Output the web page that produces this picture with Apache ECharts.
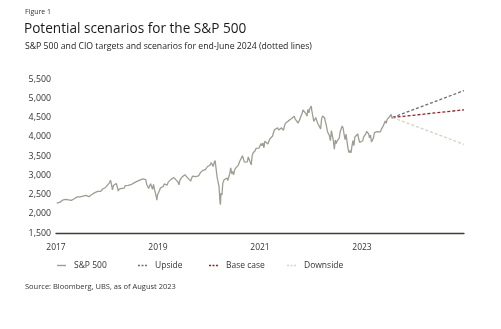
<!DOCTYPE html>
<html>
<head>
<meta charset="utf-8">
<script src="https://cdn.jsdelivr.net/npm/echarts@6/dist/echarts.min.js"></script>
<style>
html,body{margin:0;padding:0;background:#fff;}
#chart{width:501px;height:329px;}
</style>
</head>
<body>
<div id="chart"></div>
<script>
// ---- Data (weekly estimates) ----
const sp500Dates = [
'2017-01-06','2017-01-13','2017-01-20','2017-01-27','2017-02-03','2017-02-10','2017-02-17','2017-02-24','2017-03-03','2017-03-10','2017-03-17','2017-03-24','2017-03-31','2017-04-07','2017-04-13','2017-04-21','2017-04-28','2017-05-05','2017-05-12','2017-05-19','2017-05-26','2017-06-02','2017-06-09','2017-06-16','2017-06-23','2017-06-30','2017-07-07','2017-07-14','2017-07-21','2017-07-28','2017-08-04','2017-08-11','2017-08-18','2017-08-25','2017-09-01','2017-09-08','2017-09-15','2017-09-22','2017-09-29','2017-10-06','2017-10-13','2017-10-20','2017-10-27','2017-11-03','2017-11-10','2017-11-17','2017-11-24','2017-12-01','2017-12-08','2017-12-15','2017-12-22','2017-12-29',
'2018-01-05','2018-01-12','2018-01-19','2018-01-26','2018-02-02','2018-02-09','2018-02-16','2018-02-23','2018-03-02','2018-03-09','2018-03-16','2018-03-23','2018-03-29','2018-04-06','2018-04-13','2018-04-20','2018-04-27','2018-05-04','2018-05-11','2018-05-18','2018-05-25','2018-06-01','2018-06-08','2018-06-15','2018-06-22','2018-06-29','2018-07-06','2018-07-13','2018-07-20','2018-07-27','2018-08-03','2018-08-10','2018-08-17','2018-08-24','2018-08-31','2018-09-07','2018-09-14','2018-09-21','2018-09-28','2018-10-05','2018-10-12','2018-10-19','2018-10-26','2018-11-02','2018-11-09','2018-11-16','2018-11-23','2018-11-30','2018-12-07','2018-12-14','2018-12-21','2018-12-24','2018-12-28',
'2019-01-04','2019-01-11','2019-01-18','2019-01-25','2019-02-01','2019-02-08','2019-02-15','2019-02-22','2019-03-01','2019-03-08','2019-03-15','2019-03-22','2019-03-29','2019-04-05','2019-04-12','2019-04-18','2019-04-26','2019-05-03','2019-05-10','2019-05-17','2019-05-24','2019-05-31','2019-06-07','2019-06-14','2019-06-21','2019-06-28','2019-07-05','2019-07-12','2019-07-19','2019-07-26','2019-08-02','2019-08-09','2019-08-16','2019-08-23','2019-08-30','2019-09-06','2019-09-13','2019-09-20','2019-09-27','2019-10-04','2019-10-11','2019-10-18','2019-10-25','2019-11-01','2019-11-08','2019-11-15','2019-11-22','2019-11-29','2019-12-06','2019-12-13','2019-12-20','2019-12-27',
'2020-01-03','2020-01-10','2020-01-17','2020-01-24','2020-01-31','2020-02-07','2020-02-14','2020-02-21','2020-02-28','2020-03-06','2020-03-13','2020-03-20','2020-03-23','2020-03-27','2020-04-03','2020-04-09','2020-04-17','2020-04-24','2020-05-01','2020-05-08','2020-05-15','2020-05-22','2020-05-29','2020-06-05','2020-06-12','2020-06-19','2020-06-26','2020-07-02','2020-07-10','2020-07-17','2020-07-24','2020-07-31','2020-08-07','2020-08-14','2020-08-21','2020-08-28','2020-09-04','2020-09-11','2020-09-18','2020-09-25','2020-10-02','2020-10-09','2020-10-16','2020-10-23','2020-10-30','2020-11-06','2020-11-13','2020-11-20','2020-11-27','2020-12-04','2020-12-11','2020-12-18','2020-12-24','2020-12-31',
'2021-01-08','2021-01-15','2021-01-22','2021-01-29','2021-02-05','2021-02-12','2021-02-19','2021-02-26','2021-03-05','2021-03-12','2021-03-19','2021-03-26','2021-04-01','2021-04-09','2021-04-16','2021-04-23','2021-04-30','2021-05-07','2021-05-14','2021-05-21','2021-05-28','2021-06-04','2021-06-11','2021-06-18','2021-06-25','2021-07-02','2021-07-09','2021-07-16','2021-07-23','2021-07-30','2021-08-06','2021-08-13','2021-08-20','2021-08-27','2021-09-03','2021-09-10','2021-09-17','2021-09-24','2021-10-01','2021-10-08','2021-10-15','2021-10-22','2021-10-29','2021-11-05','2021-11-12','2021-11-19','2021-11-26','2021-12-03','2021-12-10','2021-12-17','2021-12-23','2021-12-31',
'2022-01-03','2022-01-07','2022-01-14','2022-01-21','2022-01-28','2022-02-04','2022-02-11','2022-02-18','2022-02-25','2022-03-04','2022-03-11','2022-03-18','2022-03-25','2022-04-01','2022-04-08','2022-04-14','2022-04-22','2022-04-29','2022-05-06','2022-05-13','2022-05-20','2022-05-27','2022-06-03','2022-06-10','2022-06-17','2022-06-24','2022-07-01','2022-07-08','2022-07-15','2022-07-22','2022-07-29','2022-08-05','2022-08-12','2022-08-19','2022-08-26','2022-09-02','2022-09-09','2022-09-16','2022-09-23','2022-09-30','2022-10-07','2022-10-14','2022-10-21','2022-10-28','2022-11-04','2022-11-11','2022-11-18','2022-11-25','2022-12-02','2022-12-09','2022-12-16','2022-12-23','2022-12-30',
'2023-01-06','2023-01-13','2023-01-20','2023-01-27','2023-02-03','2023-02-10','2023-02-17','2023-02-24','2023-03-03','2023-03-10','2023-03-17','2023-03-24','2023-03-31','2023-04-06','2023-04-14','2023-04-21','2023-04-28','2023-05-05','2023-05-12','2023-05-19','2023-05-26','2023-06-02','2023-06-09','2023-06-16','2023-06-23','2023-06-30','2023-07-07','2023-07-14','2023-07-21','2023-07-28','2023-08-04','2023-08-08'
];
const sp500Values = [
2277,2275,2271,2295,2297,2316,2351,2367,2383,2372,2378,2344,2363,2355,2329,2349,2384,2399,2391,2382,2416,2439,2432,2433,2438,2423,2425,2459,2473,2472,2477,2441,2426,2443,2477,2461,2500,2502,2519,2549,2553,2575,2581,2588,2582,2579,2602,2642,2652,2676,2683,2674,
2743,2786,2810,2873,2762,2620,2732,2747,2691,2786,2752,2588,2641,2604,2656,2670,2670,2663,2728,2713,2721,2735,2779,2780,2755,2718,2760,2801,2802,2819,2840,2833,2850,2875,2902,2872,2905,2930,2914,2886,2767,2768,2658,2723,2781,2736,2633,2760,2633,2600,2417,2351,2486,
2532,2596,2671,2665,2707,2708,2775,2793,2804,2743,2822,2801,2834,2893,2907,2905,2940,2946,2881,2860,2826,2752,2873,2887,2950,2942,2990,3014,2977,3026,2932,2919,2889,2847,2926,2979,3007,2992,2962,2952,2970,2986,3023,3067,3093,3120,3110,3141,3146,3169,3221,3240,
3235,3265,3330,3295,3226,3328,3380,3338,2954,2972,2711,2305,2237,2541,2489,2790,2875,2837,2831,2930,2864,2955,3044,3194,3041,3098,3009,3130,3185,3225,3216,3271,3351,3373,3397,3508,3427,3341,3319,3298,3348,3477,3484,3465,3270,3510,3585,3558,3638,3699,3663,3709,3703,3756,
3825,3768,3841,3714,3887,3934,3907,3811,3842,3943,3913,3975,4020,4129,4185,4180,4181,4233,4174,4156,4204,4230,4247,4166,4281,4352,4370,4327,4412,4395,4437,4468,4442,4509,4535,4459,4433,4455,4357,4391,4471,4545,4605,4697,4683,4698,4595,4538,4712,4620,4725,4766,
4797,4677,4663,4398,4432,4500,4419,4349,4385,4329,4204,4463,4543,4546,4488,4393,4272,4132,4123,4024,3901,4158,4109,3901,3675,3912,3825,3899,3863,3962,4130,4145,4280,4228,4058,3924,4067,3873,3693,3586,3640,3583,3752,3901,3771,3993,3965,4026,4072,3934,3852,3845,3840,
3895,3999,3973,4071,4136,4090,4079,3970,4046,3862,3917,3971,4109,4105,4138,4133,4169,4136,4124,4192,4205,4282,4299,4410,4348,4450,4399,4505,4536,4582,4478,4499
];
const scenarioDates = ['2023-08-08','2025-01-01'];
const upsideValues = [4500, 5200];
const baseCaseValues = [4500, 4700];
const downsideValues = [4500, 3800];
const yTickLabels = ['1,500','2,000','2,500','3,000','3,500','4,000','4,500','5,000','5,500'];
const xTickLabels = ['2017','2019','2021','2023'];

// ---- Helpers ----
function toYear(d){
  const t = new Date(d + 'T00:00:00Z');
  const y = t.getUTCFullYear();
  const start = Date.UTC(y,0,1), end = Date.UTC(y+1,0,1);
  return y + (t.getTime()-start)/(end-start);
}
function pairs(dates, vals){ return dates.map((d,i)=>[toYear(d), vals[i]]); }

const FONT = 'Open Sans';
const SOLID_ICON = 'path://M0,0h9v1.4h-9z';
const DOT_ICON = 'path://M0,0h2v1.4h-2z M3.5,0h2v1.4h-2z M7,0h2v1.4h-2z';
const chart = echarts.init(document.getElementById('chart'), null, {renderer:'canvas'});

function legendAt(name, left, icon){
  return {
    data:[{name:name, icon:icon}], left:left, top:261, padding:0, itemWidth:9, itemHeight:1.4,
    textStyle:{fontFamily:FONT, fontSize:8.5, color:'#333', padding:[0,0,0,3]},
    selectedMode:false
  };
}

chart.setOption({
  animation:false,
  backgroundColor:'#fff',
  textStyle:{fontFamily:FONT},
  grid:{left:56, right:37, top:79, bottom:96, containLabel:false},
  xAxis:{
    type:'value', min:2017, max:2025, interval:2,
    axisLine:{show:true, lineStyle:{color:'#3e3e34', width:1.3}},
    axisTick:{show:false},
    splitLine:{show:false},
    axisLabel:{
      fontFamily:FONT, fontSize:8.5, color:'#333', margin:10,
      formatter:function(v){ const s=String(Math.round(v)); return xTickLabels.indexOf(s)>=0 ? s : ''; }
    }
  },
  yAxis:{
    type:'value', min:1500, max:5500, interval:500,
    axisLine:{show:false}, axisTick:{show:false}, splitLine:{show:false},
    axisLabel:{
      fontFamily:FONT, fontSize:8.8, color:'#333', margin:5,
      formatter:function(v){ const i=(v-1500)/500; return yTickLabels[i] || ''; }
    }
  },
  legend:[
    legendAt('S&P 500', 57, SOLID_ICON),
    legendAt('Upside', 138, DOT_ICON),
    legendAt('Base case', 209, DOT_ICON),
    legendAt('Downside', 287, DOT_ICON)
  ],
  series:[
    {name:'S&P 500', type:'line', data:pairs(sp500Dates, sp500Values), symbol:'none',
     lineStyle:{color:'#9f9d92', width:1.3}, itemStyle:{color:'#9f9d92'}},
    {name:'Upside', type:'line', data:pairs(scenarioDates, upsideValues), symbol:'none',
     lineStyle:{color:'#6f6f6f', width:1.3, type:[3,2]}, itemStyle:{color:'#6f6f6f'}},
    {name:'Base case', type:'line', data:pairs(scenarioDates, baseCaseValues), symbol:'none',
     lineStyle:{color:'#8e2424', width:1.3, type:[3,2]}, itemStyle:{color:'#8e2424'}},
    {name:'Downside', type:'line', data:pairs(scenarioDates, downsideValues), symbol:'none',
     lineStyle:{color:'#d8d1c6', width:1.3, type:[3,2]}, itemStyle:{color:'#d8d1c6'}}
  ],
  graphic:[
    {type:'text', left:25, top:8, style:{text:'Figure 1', font:'7px "Open Sans"', fill:'#333'}},
    {type:'text', left:24, top:22, style:{text:'Potential scenarios for the S&P 500', font:'13.6px "Open Sans"', fill:'#1a1a1a'}},
    {type:'text', left:25, top:42, style:{text:'S&P 500 and CIO targets and scenarios for end-June 2024 (dotted lines)', font:'8.7px "Open Sans"', fill:'#222'}},
    {type:'text', left:25, top:283, style:{text:'Source: Bloomberg, UBS, as of August 2023', font:'7.5px "Open Sans"', fill:'#333'}}
  ]
});
</script>
</body>
</html>
